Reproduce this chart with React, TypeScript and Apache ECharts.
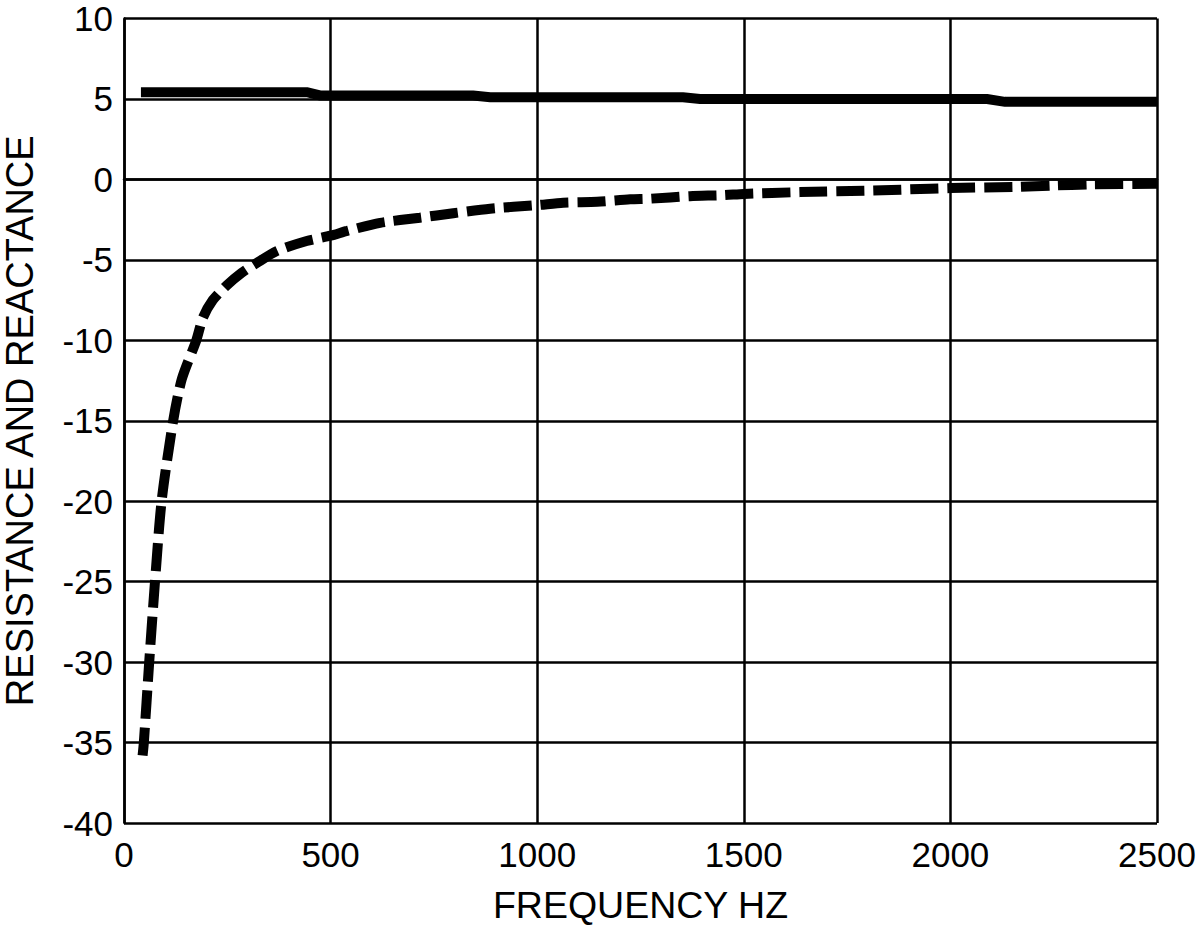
import React, { useEffect, useRef } from "react";
import * as echarts from "echarts";

const xTicks = [0, 500, 1000, 1500, 2000, 2500];
const yTicks = [-40, -35, -30, -25, -20, -15, -10, -5, 0, 5, 10];

const resistanceFreq = [41, 443, 474, 845, 886, 1353, 1394, 2089, 2132, 2500];
const resistanceVal = [5.42, 5.42, 5.22, 5.22, 5.11, 5.11, 5.0, 5.0, 4.82, 4.82];

const reactanceFreq = [45, 48, 61, 75, 91, 119, 140, 175, 191, 215, 248, 285, 321, 370, 442, 500, 540, 620, 716, 797, 886, 1000, 1063, 1145, 1225, 1273, 1370, 1450, 1500, 1636, 1813, 1902, 2000, 2161, 2248, 2338, 2500];
const reactanceVal = [-35.8, -35, -30, -25, -20, -15, -12.4, -10, -8.6, -7.5, -6.6, -5.8, -5.2, -4.45, -3.83, -3.5, -3.2, -2.7, -2.38, -2.1, -1.82, -1.6, -1.45, -1.39, -1.24, -1.2, -1.04, -0.98, -0.9, -0.79, -0.69, -0.62, -0.54, -0.46, -0.38, -0.31, -0.27];

const FONT = "'Liberation Sans', Arial, Helvetica, sans-serif";

export default function App() {
  const ref = useRef<HTMLDivElement>(null);
  useEffect(() => {
    document.body.style.margin = "0";
    if (!ref.current) return;
    const chart = echarts.init(ref.current, undefined, { renderer: "svg" });
    const gridLine = { lineStyle: { color: "#000", width: 2.5 } };
    chart.setOption({
      animation: false,
      backgroundColor: "#fff",
      grid: { left: 124, right: 43, top: 18.5, bottom: 103, containLabel: false, outerBoundsMode: "none" },
      xAxis: {
        type: "value",
        min: xTicks[0],
        max: xTicks[xTicks.length - 1],
        interval: 500,
        name: "FREQUENCY HZ",
        nameLocation: "middle",
        nameGap: 63,
        nameTextStyle: { color: "#000", fontSize: 37.5, fontFamily: FONT },
        axisLine: { show: true, lineStyle: { color: "#000", width: 2.5 } },
        axisTick: { show: false },
        axisLabel: { color: "#000", fontSize: 35, fontFamily: FONT, margin: 14, formatter: (v: number) => String(v) },
        splitLine: { show: true, showMinLine: true, showMaxLine: true, ...gridLine },
      },
      yAxis: {
        type: "value",
        min: yTicks[0],
        max: yTicks[yTicks.length - 1],
        interval: 5,
        name: "RESISTANCE AND REACTANCE",
        nameLocation: "middle",
        nameGap: 85,
        nameRotate: 90,
        nameTextStyle: { color: "#000", fontSize: 38, fontFamily: FONT },
        axisLine: { show: true, lineStyle: { color: "#000", width: 2.5 } },
        axisTick: { show: false },
        axisLabel: { color: "#000", fontSize: 35, fontFamily: FONT, margin: 11, formatter: (v: number) => String(v) },
        splitLine: { show: true, showMinLine: true, showMaxLine: true, ...gridLine },
      },
      series: [
        {
          type: "line",
          data: resistanceFreq.map((f, i) => [f, resistanceVal[i]]),
          showSymbol: false,
          symbol: "none",
          lineStyle: { color: "#000", width: 10, cap: "butt", join: "miter" },
        },
        {
          type: "line",
          data: reactanceFreq.map((f, i) => [f, reactanceVal[i]]),
          showSymbol: false,
          symbol: "none",
          smooth: 0.25,
          lineStyle: { color: "#000", width: 10, type: [28, 9], cap: "butt" },
        },
      ],
    });
    return () => chart.dispose();
  }, []);
  return <div ref={ref} style={{ width: 1200, height: 926 }} />;
}
